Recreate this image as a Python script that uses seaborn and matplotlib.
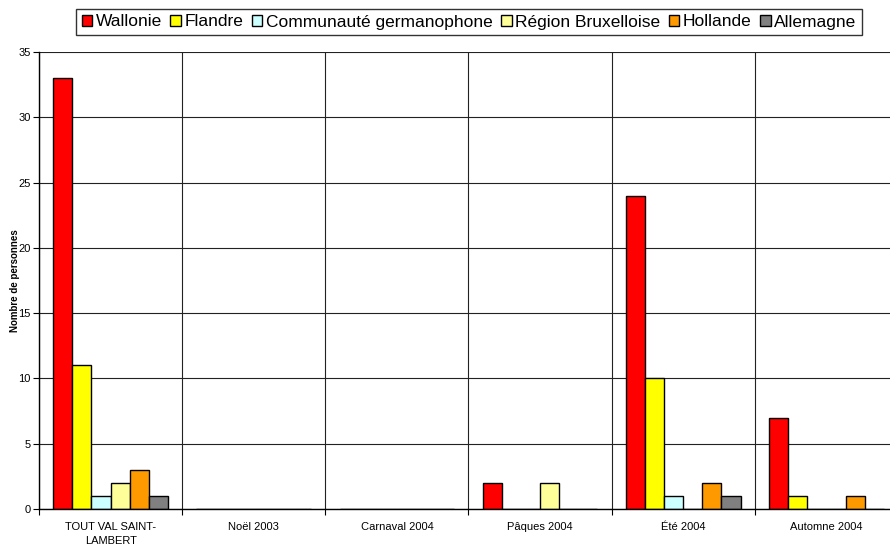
import pandas as pd
import matplotlib.pyplot as plt
import seaborn as sns
from matplotlib.ticker import FixedLocator

# Categories (periods) and regions
periods = ['TOUT VAL SAINT-\nLAMBERT', 'Noël 2003', 'Carnaval 2004', 'Pâques 2004', 'Été 2004', 'Automne 2004']
regions = ['Wallonie', 'Flandre', 'Communauté germanophone', 'Région Bruxelloise', 'Hollande', 'Allemagne']

# Number of persons per region, one list per period
tout_val = [33, 11, 1, 2, 3, 1]
noel_2003 = [0, 0, 0, 0, 0, 0]
carnaval_2004 = [0, 0, 0, 0, 0, 0]
paques_2004 = [2, 0, 0, 2, 0, 0]
ete_2004 = [24, 10, 1, 0, 2, 1]
automne_2004 = [7, 1, 0, 0, 1, 0]

colors = ['#FF0000', '#FFFF00', '#CCFFFF', '#FFFF99', '#FF9900', '#808080']

# Building the long dataframe for seaborn
values = [tout_val, noel_2003, carnaval_2004, paques_2004, ete_2004, automne_2004]
rows = []
for period, vals in zip(periods, values):
    for region, v in zip(regions, vals):
        rows.append({'periode': period, 'region': region, 'nombre': v})
df = pd.DataFrame(rows)

sns.set_style('white')
plt.rcParams['font.family'] = ['Liberation Sans', 'DejaVu Sans']
plt.rcParams['text.color'] = 'black'
plt.rcParams['xtick.color'] = 'black'
plt.rcParams['ytick.color'] = 'black'
plt.rcParams['axes.labelcolor'] = 'black'

fig = plt.figure(figsize=(8.9, 5.44), dpi=100)
ax = fig.add_axes([39 / 890, 35 / 544, 859 / 890, 457 / 544])

sns.barplot(data=df, x='periode', y='nombre', hue='region', hue_order=regions,
            palette=dict(zip(regions, colors)), saturation=1, width=0.8, gap=0,
            edgecolor='black', linewidth=1, ax=ax, legend=True)

# Axis limits and grid
ax.set_xlim(-0.5, 5.5)
ax.set_ylim(0, 35)
ax.set_yticks(range(0, 36, 5))
ax.xaxis.set_minor_locator(FixedLocator([i + 0.5 for i in range(-1, 6)]))
ax.grid(True, which='major', axis='y', color='#222222', linewidth=0.8)
ax.grid(True, which='minor', axis='x', color='#222222', linewidth=0.8)
ax.set_axisbelow(True)
ax.tick_params(axis='x', which='major', length=0, labelsize=8, pad=9)
ax.tick_params(axis='x', which='minor', length=4, width=0.8, direction='out', bottom=True)
ax.tick_params(axis='y', length=4, width=0.8, direction='out', left=True, labelsize=8, pad=2)
for lbl in ax.get_xticklabels():
    lbl.set_linespacing(1.5)

for side in ['top', 'right']:
    ax.spines[side].set_visible(False)
for side in ['left', 'bottom']:
    ax.spines[side].set_color('black')
    ax.spines[side].set_linewidth(1)

ax.set_xlabel('')
ax.set_ylabel('Nombre de personnes', fontsize=7, fontweight='bold', labelpad=-1)

# Legend on top
handles, labels = ax.get_legend_handles_labels()
ax.legend(handles, labels, loc='center', bbox_to_anchor=(469 / 890, 1 - 22 / 544),
          bbox_transform=fig.transFigure, ncol=6, fontsize=12.5, frameon=True,
          fancybox=False, edgecolor='black', handlelength=0.6, handleheight=0.6,
          handletextpad=0.2, columnspacing=0.5, borderpad=0.3, borderaxespad=0)
ax.get_legend().get_frame().set_linewidth(1)

fig.savefig('out.png', dpi=100)
